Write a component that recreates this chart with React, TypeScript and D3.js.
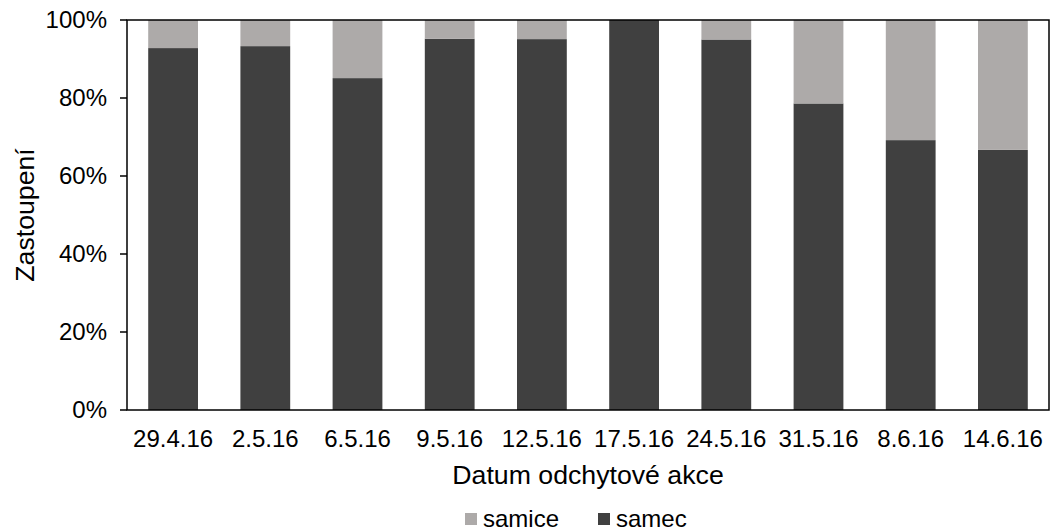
import React from "react";
import * as d3 from "d3";

const categories = ["29.4.16", "2.5.16", "6.5.16", "9.5.16", "12.5.16", "17.5.16", "24.5.16", "31.5.16", "8.6.16", "14.6.16"];
const samec = [92.8, 93.3, 85.1, 95.2, 95.1, 100, 95.0, 78.6, 69.2, 66.7];
const samice = samec.map((v) => 100 - v);
const yTicks = [0, 20, 40, 60, 80, 100];

const W = 1053, H = 531;
const M = { left: 127, right: 1049, top: 20, bottom: 410 };
const FONT = "Liberation Sans, Arial, sans-serif";
const C_SAMEC = "#404040";
const C_SAMICE = "#ADAAA9";

export default function App() {
  const x = d3.scaleBand<string>().domain(categories).range([M.left, M.right]).paddingInner(0.46).paddingOuter(0.23);
  const y = d3.scaleLinear().domain([0, 100]).range([M.bottom, M.top]);
  const stackData = categories.map((c, i) => ({ c, samec: samec[i], samice: samice[i] }));
  const series = d3.stack<any>().keys(["samec", "samice"])(stackData);
  const colors: Record<string, string> = { samec: C_SAMEC, samice: C_SAMICE };
  return (
    <svg width={W} height={H} style={{ position: "absolute", left: 0, top: 0 }} fontFamily={FONT}>
      <rect width={W} height={H} fill="#fff" />
      {series.map((s) => (
        <g key={s.key} fill={colors[s.key]}>
          {s.map((d, i) => (
            <rect key={i} x={x(categories[i])} width={x.bandwidth()} y={y(d[1])} height={Math.max(0, y(d[0]) - y(d[1]))} />
          ))}
        </g>
      ))}
      <rect x={M.left} y={M.top} width={M.right - M.left} height={M.bottom - M.top} fill="none" stroke="#000" strokeWidth={1.5} />
      {yTicks.map((t) => (
        <g key={t}>
          <line x1={M.left - 7} x2={M.left} y1={y(t)} y2={y(t)} stroke="#000" strokeWidth={1.5} />
          <text x={107} y={y(t)} dy="0.35em" textAnchor="end" fontSize={24} fill="#000">{t}%</text>
        </g>
      ))}
      {categories.map((c) => (
        <text key={c} x={x(c)! + x.bandwidth() / 2} y={447} textAnchor="middle" fontSize={24} fill="#000">{c}</text>
      ))}
      <text x={(M.left + M.right) / 2} y={484} textAnchor="middle" fontSize={26.7} fill="#000">Datum odchytové akce</text>
      <text transform={`translate(34,${(M.top + M.bottom) / 2}) rotate(-90)`} textAnchor="middle" fontSize={26.7} fill="#000">Zastoupení</text>
      <g>
        <rect x={465} y={513} width={12} height={12} fill={C_SAMICE} />
        <text x={483} y={527} fontSize={24} fill="#000">samice</text>
        <rect x={598} y={513} width={12} height={12} fill={C_SAMEC} />
        <text x={616} y={527} fontSize={24} fill="#000">samec</text>
      </g>
    </svg>
  );
}
